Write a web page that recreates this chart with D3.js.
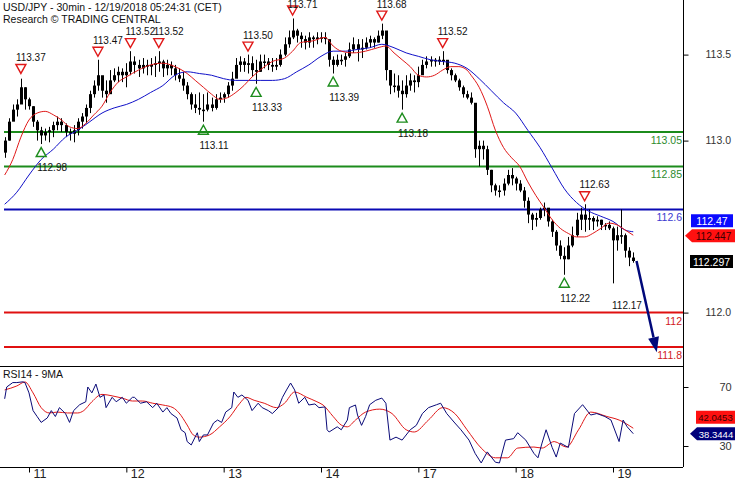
<!DOCTYPE html>
<html><head><meta charset="utf-8">
<script src="https://cdn.jsdelivr.net/npm/d3@7"></script>
<style>body{margin:0;background:#fff}svg{display:block;font-family:"Liberation Sans",Arial,sans-serif}</style>
</head><body><svg id="c" width="735" height="480"></svg>
<script>
// ---------- DATA ----------
const dayLabels = ["11","12","13","14","17","18","19"];
const dayBars = [6,30,54,78,102,126,150];   // hourly bar index of each day start
const firstOpen = 112.93;
const highs = [113.02,113.13,113.21,113.24,113.36,113.31,113.25,113.20,113.12,113.08,
113.07,113.08,113.11,113.14,113.13,113.10,113.07,113.09,113.13,113.16,
113.21,113.29,113.35,113.47,113.37,113.35,113.41,113.42,113.43,113.42,
113.45,113.52,113.49,113.47,113.48,113.47,113.48,113.49,113.52,113.47,
113.47,113.46,113.44,113.42,113.40,113.34,113.28,113.27,113.28,113.27,
113.28,113.25,113.27,113.28,113.28,113.34,113.40,113.48,113.49,113.48,
113.50,113.49,113.47,113.50,113.50,113.48,113.48,113.48,113.53,113.60,
113.64,113.71,113.65,113.63,113.61,113.63,113.61,113.63,113.63,113.63,
113.53,113.49,113.50,113.50,113.51,113.57,113.60,113.59,113.59,113.60,
113.61,113.60,113.64,113.68,113.61,113.41,113.39,113.38,113.35,113.38,
113.39,113.38,113.43,113.47,113.49,113.49,113.48,113.49,113.52,113.46,
113.42,113.39,113.36,113.32,113.29,113.28,113.16,113.00,113.00,112.97,
112.83,112.75,112.74,112.78,112.83,112.84,112.79,112.77,112.73,112.67,
112.58,112.58,112.61,112.64,112.58,112.54,112.48,112.42,112.38,112.44,
112.50,112.58,112.61,112.63,112.60,112.56,112.56,112.54,112.52,112.53,
112.50,112.50,112.60,112.46,112.38,112.35];
const lows = [112.90,113.00,113.12,113.14,113.24,113.18,113.18,113.08,113.00,112.98,
113.00,112.99,113.02,113.06,113.05,113.02,113.00,112.99,113.03,113.07,
113.10,113.16,113.25,113.29,113.25,113.22,113.28,113.34,113.34,113.34,
113.31,113.38,113.39,113.37,113.39,113.38,113.38,113.37,113.40,113.37,
113.38,113.38,113.35,113.34,113.29,113.24,113.18,113.16,113.15,113.11,
113.17,113.17,113.18,113.22,113.22,113.25,113.29,113.37,113.40,113.40,
113.39,113.37,113.33,113.40,113.42,113.41,113.40,113.41,113.43,113.49,
113.54,113.59,113.57,113.54,113.53,113.54,113.54,113.56,113.57,113.56,
113.43,113.39,113.43,113.44,113.43,113.48,113.51,113.46,113.48,113.53,
113.54,113.54,113.57,113.59,113.35,113.27,113.28,113.25,113.18,113.25,
113.29,113.28,113.31,113.39,113.42,113.43,113.43,113.44,113.44,113.39,
113.35,113.34,113.29,113.25,113.24,113.21,112.90,112.85,112.89,112.80,
112.70,112.68,112.67,112.68,112.74,112.74,112.71,112.70,112.61,112.52,
112.48,112.50,112.54,112.56,112.50,112.44,112.36,112.31,112.22,112.31,
112.38,112.44,112.48,112.47,112.48,112.48,112.50,112.48,112.48,112.48,
112.17,112.36,112.40,112.32,112.27,112.29];
const closes = [113.00,113.11,113.18,113.21,113.31,113.24,113.20,113.11,113.06,113.03,
113.05,113.06,113.09,113.11,113.09,113.05,113.04,113.06,113.11,113.14,
113.19,113.27,113.32,113.38,113.29,113.27,113.35,113.38,113.40,113.38,
113.40,113.46,113.44,113.42,113.44,113.43,113.44,113.45,113.46,113.42,
113.44,113.42,113.38,113.36,113.32,113.27,113.21,113.19,113.18,113.18,
113.21,113.19,113.24,113.25,113.27,113.32,113.36,113.44,113.46,113.44,
113.45,113.41,113.40,113.46,113.46,113.44,113.43,113.44,113.50,113.56,
113.60,113.64,113.61,113.59,113.57,113.60,113.59,113.60,113.60,113.59,
113.47,113.44,113.47,113.47,113.49,113.53,113.56,113.53,113.54,113.57,
113.59,113.57,113.61,113.64,113.41,113.32,113.32,113.29,113.27,113.32,
113.35,113.34,113.38,113.44,113.46,113.47,113.46,113.47,113.47,113.41,
113.38,113.35,113.31,113.27,113.25,113.22,112.95,112.97,112.95,112.83,
112.74,112.71,112.71,112.75,112.80,112.78,112.75,112.71,112.65,112.57,
112.54,112.55,112.60,112.61,112.53,112.47,112.39,112.33,112.31,112.39,
112.45,112.54,112.57,112.54,112.55,112.53,112.54,112.51,112.51,112.49,
112.42,112.45,112.45,112.36,112.32,112.30];
const fastMA = [[0,112.80],[2,112.89],[4,113.02],[6,113.12],[8,113.16],[10,113.17],[12,113.15],[14,113.12],[16,113.08],[18,113.07],[20,113.10],[22,113.15],[24,113.20],[26,113.28],[28,113.34],[30,113.37],[33,113.41],[36,113.44],[39,113.45],[42,113.43],[45,113.39],[47,113.35],[49,113.31],[51,113.27],[53,113.24],[55,113.25],[57,113.28],[59,113.32],[61,113.37],[63,113.41],[66,113.46],[69,113.48],[71,113.52],[73,113.57],[76,113.58],[79,113.60],[81,113.55],[83,113.52],[86,113.51],[89,113.52],[92,113.54],[94,113.55],[96,113.51],[98,113.47],[100,113.43],[102,113.38],[104,113.37],[106,113.38],[108,113.41],[110,113.43],[112,113.43],[114,113.41],[115,113.38],[117,113.31],[119,113.20],[121,113.06],[123,112.96],[125,112.90],[127,112.85],[129,112.76],[131,112.68],[133,112.61],[135,112.54],[137,112.49],[139,112.46],[141,112.44],[143,112.44],[145,112.46],[147,112.49],[149,112.52],[151,112.51],[153,112.48],[155,112.45]];
const slowMA = [[0,112.63],[3,112.70],[6,112.80],[9,112.89],[12,112.95],[15,113.02],[18,113.06],[21,113.11],[24,113.16],[27,113.19],[30,113.21],[33,113.24],[36,113.28],[39,113.32],[42,113.38],[45,113.40],[48,113.39],[51,113.38],[54,113.36],[57,113.35],[60,113.35],[63,113.35],[66,113.35],[69,113.36],[72,113.40],[75,113.44],[78,113.49],[81,113.52],[84,113.52],[87,113.53],[90,113.54],[93,113.56],[96,113.54],[99,113.51],[102,113.49],[105,113.47],[108,113.46],[111,113.45],[114,113.42],[117,113.36],[120,113.29],[123,113.22],[126,113.16],[129,113.06],[132,112.96],[135,112.84],[138,112.72],[141,112.64],[144,112.59],[147,112.56],[150,112.53],[153,112.48],[155,112.47]];
const levels = [113.05,112.85,112.6,112,111.8];
const levelText = ["113.05","112.85","112.6","112","111.8"];
const levelKind = ["green","green","blue","red","red"];
const peakPivots = [[4,113.37],[23,113.47],[31,113.52],[38,113.52],[60,113.50],[71,113.71],[93,113.68],[108,113.52],[143,112.63]];
const troughPivots = [[9,112.98],[49,113.11],[62,113.33],[81,113.39],[98,113.18],[138,112.22]];
const lowNote = [150,112.17];
const forecast = [[155.8,112.30],[160.8,111.77]];
const lastSlow = 112.47, lastFast = 112.447, lastClose = 112.297;
const rsi = [[0,62],[0.5,70],[2,73],[3,73],[4.5,73.5],[5,73],[6,66],[7,54],[8,50],[9,46],[10.5,49],[11.5,54],[12.5,50],[13.5,56],[15,52],[16,46],[17,54],[18.5,58],[20,60],[20.5,70],[21.5,66],[22.5,72],[23.5,63],[24.5,64.6],[25,56],[26.5,63],[27.5,60],[29,63],[30,59],[31.5,63],[32,63],[33.5,59],[35,60],[36.5,56],[37.5,59],[39,53],[40,56],[41,52],[42.5,49],[43.5,41],[44.5,39],[45,33],[46,30.7],[47.5,39],[48,33],[49,37.5],[50,37.5],[51.5,45.6],[52.5,47.6],[53.5,46],[54.5,53],[56,56],[56.5,66.6],[57.5,63],[58.5,64.6],[60,61],[61,54],[62.5,59],[63.5,56],[65,54],[66,52],[67.5,56],[68.5,63],[69.5,68],[70.5,72.7],[71.5,68],[72.5,59],[74,63],[75,57.8],[76.5,58.5],[77.5,56],[79,56.5],[79.5,41],[80,39.5],[82,43],[83,41],[84.5,47.6],[85,56],[86.5,57.8],[87,51],[88,44],[89,50],[90,58],[91.5,61],[93,62.5],[94,59],[95,34],[96.5,36],[98,34],[100,41],[101.5,44],[103,52],[104.5,56],[106.5,58],[107.5,59],[109,52],[111,45.6],[112.5,41],[114.5,34],[116,25],[117.5,18.5],[119,26],[121,19],[122,18.5],[123.5,34],[125.5,35],[126.5,39],[128.5,34],[130.5,25],[131.5,22],[132.5,32],[133.5,41],[135,29],[136,22.5],[137,32],[139,29],[140.5,52],[142.5,58],[144.5,51],[146,52],[148,50],[149.5,47.6],[151.5,33],[152.5,47.6],[153.5,43],[155,38.34]];
const rsiMA = [[0,68],[3,70.7],[5,73.4],[7,66],[9,56],[11,52.4],[13,53],[15.5,52.4],[18,52.4],[19.5,54],[21.5,60],[24,65],[26.5,64],[29,62.5],[31.5,60.5],[34,60.5],[36.5,59],[39,57.8],[41.5,56],[43,52.4],[45,44.2],[46.5,37.5],[48,36],[50.5,37.5],[53,43],[55.5,49.7],[58,59],[59.5,63],[61.5,61],[64,59],[67,56],[69,59],[71.5,66.6],[74.5,63],[77,60],[78.5,57.8],[81,50],[83,44.2],[84.5,43],[86.5,47.6],[89,53],[92.5,55],[95.5,52],[99,41],[101,39.5],[104.5,47.6],[108,56],[111,52],[114,41],[117.5,28.6],[121,22],[124,22],[126.5,28.6],[130.5,29.3],[132.5,28.6],[135.5,33],[138.5,29.3],[141.5,41],[144.5,53],[148.5,50],[151.5,47.6],[155,42.05]];
const lastRsi = 38.3444, lastRsiMA = 42.0453;
const rsiTicks = [30,70];
const priceTicks = [112,113,113.5];

// ---------- DRAW ----------
const svg = d3.select("#c");
const x = d3.scaleLinear().domain([6,150]).range([29,613]);
const y = d3.scaleLinear().domain([112,113.05]).range([312.6,132]);
const r = d3.scaleLinear().domain([30,70]).range([446,387]);
const RIGHT = 683, MAIN_B = 366, RSI_B = 467;
const font = '"Liberation Sans",Arial,sans-serif';

// levels
const levelColor = {green:"#1c8c1c", blue:"#0a0ab4", red:"#e01010"};
const levelTextColor = {green:"#2e8b2e", blue:"#3a3ad0", red:"#d02020"};
levels.forEach((v,i)=>{
  svg.append("line").attr("x1",4).attr("x2",RIGHT).attr("y1",y(v)).attr("y2",y(v))
    .attr("stroke",levelColor[levelKind[i]]).attr("stroke-width",2);
  svg.append("text").attr("x",RIGHT-1).attr("y",y(v)+12).attr("text-anchor","end")
    .attr("font-size",10.5).attr("fill",levelTextColor[levelKind[i]]).text(levelText[i]);
});

// candles
const bars = closes.map((c,i)=>({i,o:i?closes[i-1]:firstOpen,h:highs[i],l:lows[i],c}));
const cg = svg.append("g");
cg.selectAll("line").data(bars).join("line")
  .attr("x1",d=>Math.round(x(d.i))+0.5).attr("x2",d=>Math.round(x(d.i))+0.5)
  .attr("y1",d=>y(d.h)).attr("y2",d=>y(d.l)).attr("stroke","#000").attr("stroke-width",1);
cg.selectAll("rect").data(bars).join("rect")
  .attr("x",d=>Math.round(x(d.i))-1).attr("width",3)
  .attr("y",d=>y(Math.max(d.o,d.c))).attr("height",d=>Math.max(1.5,Math.abs(y(d.o)-y(d.c))))
  .attr("fill","#000");

// moving averages
const maLine = d3.line().x(d=>x(d[0])).y(d=>y(d[1])).curve(d3.curveMonotoneX);
svg.append("path").attr("d",maLine(slowMA)).attr("fill","none").attr("stroke","#1010c8").attr("stroke-width",1);
svg.append("path").attr("d",maLine(fastMA)).attr("fill","none").attr("stroke","#e01818").attr("stroke-width",1);

// pivots
const tri = (cx,cy,down)=> down
  ? `M${cx-5},${cy-4.5}L${cx+5},${cy-4.5}L${cx},${cy+4.5}Z`
  : `M${cx-5},${cy+4.5}L${cx+5},${cy+4.5}L${cx},${cy-4.5}Z`;
peakPivots.forEach(([i,v])=>{
  const cx=x(i), cy=y(v)-8;
  svg.append("path").attr("d",tri(cx,cy,true)).attr("fill","none").attr("stroke","#e01818").attr("stroke-width",1.4);
  svg.append("text").attr("x",cx-5).attr("y",Math.max(8,cy-8)).attr("font-size",10).attr("fill","#111").text(v.toFixed(2));
});
troughPivots.forEach(([i,v])=>{
  const cx=x(i), cy=y(v)+8;
  svg.append("path").attr("d",tri(cx,cy,false)).attr("fill","none").attr("stroke","#1c8c1c").attr("stroke-width",1.4);
  svg.append("text").attr("x",cx-4).attr("y",cy+19).attr("font-size",10).attr("fill","#111").text(v.toFixed(2));
});
svg.append("text").attr("x",x(lowNote[0])-1).attr("y",y(lowNote[1])+26).attr("font-size",10).attr("fill","#111").text(lowNote[1].toFixed(2));

// forecast arrow
{
  const [a,b]=forecast; const x1=x(a[0]),y1=y(a[1]),x2=x(b[0]),y2=y(b[1]);
  const ang=Math.atan2(y2-y1,x2-x1), L=15, W=5.5;
  const bx=x2-L*Math.cos(ang), by=y2-L*Math.sin(ang);
  svg.append("line").attr("x1",x1).attr("y1",y1).attr("x2",bx).attr("y2",by).attr("stroke","#00087a").attr("stroke-width",2.5);
  svg.append("path").attr("d",`M${x2},${y2}L${bx-W*Math.sin(ang)},${by+W*Math.cos(ang)}L${bx+W*Math.sin(ang)},${by-W*Math.cos(ang)}Z`).attr("fill","#00087a");
}

// frame
svg.append("line").attr("x1",RIGHT+0.5).attr("x2",RIGHT+0.5).attr("y1",0).attr("y2",RSI_B).attr("stroke","#000");
svg.append("line").attr("x1",0).attr("x2",RIGHT).attr("y1",MAIN_B+0.5).attr("y2",MAIN_B+0.5).attr("stroke","#000");
svg.append("line").attr("x1",0).attr("x2",RIGHT).attr("y1",RSI_B+0.5).attr("y2",RSI_B+0.5).attr("stroke","#000");

// right price axis
const ya = svg.append("g").attr("transform",`translate(${RIGHT+0.5},0)`)
  .call(d3.axisRight(y).tickValues(priceTicks).tickFormat(d3.format(".1f")).tickSize(5).tickPadding(17));
ya.select(".domain").remove();
ya.selectAll("text").attr("font-size",10.5).attr("font-family",font).attr("fill","#333");

// value boxes
function box(yc,val,fill,tcol,arrowTip,x0,x1,fs){
  const h=13, g=svg.append("g");
  const p = arrowTip!=null
    ? `M${arrowTip},${yc}L${x0},${yc-h/2}L${x1},${yc-h/2}L${x1},${yc+h/2}L${x0},${yc+h/2}Z`
    : `M${x0},${yc-h/2}L${x1},${yc-h/2}L${x1},${yc+h/2}L${x0},${yc+h/2}Z`;
  g.append("path").attr("d",p).attr("fill",fill);
  g.append("text").attr("x",(x0+x1)/2).attr("text-anchor","middle").attr("y",yc+4)
    .attr("font-size",fs||10.5).attr("fill",tcol).text(val);
}
box(y(lastSlow)-11, String(lastSlow), "#0a0aff","#fff", null, 691, 733);
box(y(lastFast), String(lastFast), "#ff1010","#3a0000", 685, 692, 735, 10);
box(y(lastClose), String(lastClose), "#000","#fff", null, 690, 733);

// RSI panel
svg.append("text").attr("x",3).attr("y",378).attr("font-size",10.5).attr("fill","#111").text("RSI14 - 9MA");
svg.append("path").attr("d",d3.line().x(d=>x(d[0])).y(d=>r(d[1])).curve(d3.curveMonotoneX)(rsiMA)).attr("fill","none").attr("stroke","#e01818").attr("stroke-width",1);
svg.append("path").attr("d",d3.line().x(d=>x(d[0])).y(d=>r(d[1]))(rsi)).attr("fill","none").attr("stroke","#0a0a78").attr("stroke-width",1);
const ra = svg.append("g").attr("transform",`translate(${RIGHT+0.5},0)`)
  .call(d3.axisRight(r).tickValues(rsiTicks).tickFormat(d3.format("d")).tickSize(5).tickPadding(31));
ra.select(".domain").remove();
ra.selectAll("text").attr("font-size",11).attr("font-family",font).attr("fill","#333");
box(r(lastRsiMA)-11, String(lastRsiMA), "#ff1010","#3a0000", null, 696, 735, 9.5);
box(r(lastRsi), String(lastRsi), "#00007a","#fff", 690, 697, 735, 9.5);

// date axis
const xa = svg.append("g").attr("transform",`translate(0,${RSI_B+0.5})`)
  .call(d3.axisBottom(x).tickValues(dayBars).tickFormat((d,i)=>dayLabels[i]).tickSize(5));
xa.select(".domain").remove();
xa.selectAll("text").attr("font-size",12.5).attr("font-family",font).attr("fill","#222")
  .attr("text-anchor","start").attr("x",4).attr("y",1.5).attr("dy","0.71em");

// title
svg.append("text").attr("x",3).attr("y",11).attr("font-size",10.5).attr("fill","#111").text("USD/JPY - 30min - 12/19/2018 05:24:31 (CET)");
svg.append("text").attr("x",3).attr("y",23).attr("font-size",10.5).attr("fill","#111").text("Research © TRADING CENTRAL");
</script></body></html>
